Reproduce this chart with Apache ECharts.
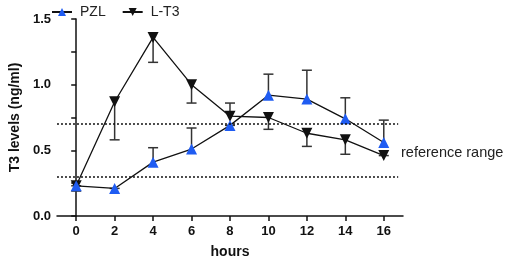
<!DOCTYPE html>
<html>
<head>
<meta charset="utf-8">
<script src="https://cdn.jsdelivr.net/npm/echarts@6/dist/echarts.min.js"></script>
<style>
  html, body { margin: 0; padding: 0; background: #fff; }
  #chart { width: 510px; height: 264px; }
</style>
</head>
<body>
<div id="chart"></div>
<script>
var hours = [0, 2, 4, 6, 8, 10, 12, 14, 16];
var pzl = [0.23, 0.21, 0.41, 0.51, 0.69, 0.92, 0.89, 0.74, 0.56];
var pzlErrEnd = [0.23, 0.21, 0.52, 0.67, 0.69, 1.08, 1.11, 0.90, 0.73];
var lt3 = [0.23, 0.87, 1.36, 1.00, 0.76, 0.75, 0.63, 0.58, 0.46];
var lt3ErrEnd = [0.19, 0.58, 1.17, 0.86, 0.86, 0.66, 0.53, 0.47, 0.46];
var refLow = 0.3;
var refHigh = 0.7;
var yLabels = [0, 0.5, 1.0, 1.5];

var chartDom = document.getElementById('chart');
var myChart = echarts.init(chartDom);
var option;

function pairs(ys) {
  return hours.map(function (h, i) { return [h, ys[i]]; });
}

function errData(ys, ends) {
  return hours.map(function (h, i) { return [h, ys[i], ends[i]]; });
}

// one-sided error bar with a cap
function renderErr(params, api) {
  var a = api.coord([api.value(0), api.value(1)]);
  var b = api.coord([api.value(0), api.value(2)]);
  var style = { stroke: '#333', lineWidth: 1.5 };
  return {
    type: 'group',
    children: [
      { type: 'line', shape: { x1: a[0], y1: a[1], x2: b[0], y2: b[1] }, style: style },
      { type: 'line', shape: { x1: b[0] - 5, y1: b[1], x2: b[0] + 5, y2: b[1] }, style: style }
    ]
  };
}

option = {
  animation: false,
  textStyle: { fontFamily: 'Liberation Sans' },
  grid: { left: 47, right: 107, top: 19, bottom: 47 },
  legend: {
    left: 46,
    top: 0,
    itemGap: 16,
    itemWidth: 20,
    itemHeight: 10,
    data: ['PZL', 'L-T3'],
    textStyle: { color: '#222', fontSize: 14, padding: [0, 0, 0, 3] }
  },
  xAxis: {
    type: 'value',
    min: -1,
    max: 17,
    interval: 2,
    name: 'hours',
    nameLocation: 'middle',
    nameGap: 29,
    nameTextStyle: { color: '#111', fontSize: 14, fontWeight: 'bold' },
    splitLine: { show: false },
    axisLine: { lineStyle: { color: '#111', width: 1.5 } },
    axisTick: { lineStyle: { color: '#111', width: 1.5 }, length: 5,
      customValues: hours },
    axisLabel: { color: '#111', fontSize: 13, fontWeight: 'bold', margin: 9,
      customValues: hours }
  },
  yAxis: {
    type: 'value',
    min: 0,
    max: 1.5,
    interval: 0.25,
    name: 'T3 levels (ng/ml)',
    nameLocation: 'middle',
    nameGap: 33,
    nameTextStyle: { color: '#111', fontSize: 14, fontWeight: 'bold' },
    splitLine: { show: false },
    axisLine: { show: true, lineStyle: { color: '#111', width: 1.5 } },
    axisTick: { show: true, lineStyle: { color: '#111', width: 1.5 }, length: 5 },
    axisLabel: {
      color: '#111', fontSize: 13, fontWeight: 'bold', margin: 6,
      customValues: yLabels,
      formatter: function (v) { return v.toFixed(1); }
    }
  },
  series: [
    {
      name: 'PZL err',
      type: 'custom',
      renderItem: renderErr,
      data: errData(pzl, pzlErrEnd),
      z: 1
    },
    {
      name: 'L-T3 err',
      type: 'custom',
      renderItem: renderErr,
      data: errData(lt3, lt3ErrEnd),
      z: 1
    },
    {
      name: 'PZL',
      type: 'line',
      data: pairs(pzl),
      symbol: 'triangle',
      symbolSize: 11,
      itemStyle: { color: '#1f5cf2' },
      lineStyle: { color: '#111', width: 1.3 },
      z: 3,
      markLine: {
        silent: true,
        symbol: 'none',
        label: { show: false },
        lineStyle: { color: '#111', type: [2, 2], width: 1.5 },
        data: [
          [{ coord: [-1, refHigh] }, { coord: [16.75, refHigh] }],
          [{ coord: [-1, refLow] }, { coord: [16.75, refLow] }]
        ]
      }
    },
    {
      name: 'L-T3',
      type: 'line',
      data: pairs(lt3),
      symbol: 'triangle',
      symbolRotate: 180,
      symbolSize: 11,
      itemStyle: { color: '#111' },
      lineStyle: { color: '#111', width: 1.3 },
      z: 2
    }
  ],
  graphic: [
    {
      type: 'text',
      left: 401,
      top: 145,
      style: { text: 'reference range', fill: '#222', fontSize: 14.5, fontFamily: 'Liberation Sans' }
    }
  ]
};

option && myChart.setOption(option);
</script>
</body>
</html>
